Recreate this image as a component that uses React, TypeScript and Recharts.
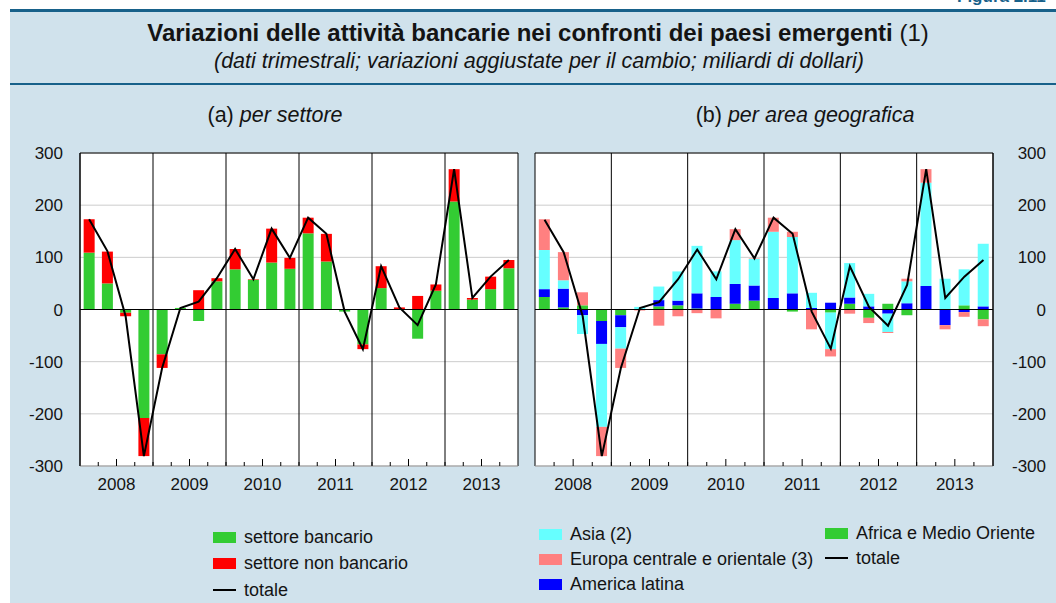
import React from 'react';
import { ComposedChart, Bar, Line, XAxis, YAxis, CartesianGrid, ReferenceLine } from 'recharts';

// trimestri 2008 T1 - 2013 T4
const years = ['2008', '2009', '2010', '2011', '2012', '2013'];
const quarters = years.flatMap(y => ['T1', 'T2', 'T3', 'T4'].map(t => `${y} ${t}`));

// (a) per settore
const bancario = [109, 50, -6, -208, -86, 3, -22, 54, 77, 57, 90, 78, 146, 92, -4, -67, 41, 0, -56, 36, 207, 19, 39, 79];
const nonBancario = [64, 61, -7, -73, -26, 0, 37, 6, 39, 1, 65, 21, 30, 53, 0, -9, 42, 4, 26, 12, 62, 3, 24, 16];
const totaleSettore = [173, 112, -13, -281, -112, 3, 15, 60, 116, 58, 155, 99, 176, 145, -4, -76, 83, 4, -30, 48, 269, 22, 63, 95];

// (b) per area geografica
const asia = [75, 16, -36, -159, -41, 4, 26, 56, 91, 49, 84, 51, 127, 108, 29, -70, 66, 24, -35, 42, 198, 59, 69, 120];
const europa = [59, 54, 25, -56, -37, -2, -31, -13, -7, -17, 21, 1, 27, 10, -37, -14, -8, -10, -2, 5, 26, -8, -9, -13];
const america = [15, 36, -11, -44, -23, 0, 12, 9, 29, 24, 38, 29, 22, 31, 3, 13, 12, 6, -8, 12, 45, -30, -5, 6];
const africa = [24, 4, 8, -22, -11, 1, 6, 8, 2, 0, 11, 17, 0, -4, -1, -6, 11, -16, 11, -11, 0, 0, 8, -19];
const totaleArea = [172, 110, -13, -281, -112, 3, 14, 58, 115, 58, 154, 98, 176, 145, -4, -75, 83, 5, -31, 47, 269, 22, 63, 95];

const yTicks = [-300, -200, -100, 0, 100, 200, 300];
const quarterTicks = Array.from({ length: 23 }, (_, i) => i + 1);
const yearLines = [0, 4, 8, 12, 16, 20, 24];

const C = {
  green: '#33cc33',
  red: '#ff0000',
  cyan: '#66ffff',
  pink: '#ff8080',
  blue: '#0000ff',
  bg: '#d0e2ec',
  teal: '#17618a',
  text: '#141414',
};

const settoreData = quarters.map((q, i) => ({
  q,
  pos: i + 0.5,
  bancario: bancario[i],
  nonBancario: nonBancario[i],
  totale: totaleSettore[i],
}));

const areaData = quarters.map((q, i) => ({
  q,
  pos: i + 0.5,
  africa: africa[i],
  america: america[i],
  asia: asia[i],
  europa: europa[i],
  totale: totaleArea[i],
}));

const settoreLegend = [
  { label: 'settore bancario', color: C.green, kind: 'rect' },
  { label: 'settore non bancario', color: C.red, kind: 'rect' },
  { label: 'totale', color: '#000', kind: 'line' },
];
const areaLegend1 = [
  { label: 'Asia (2)', color: C.cyan, kind: 'rect' },
  { label: 'Europa centrale e orientale (3)', color: C.pink, kind: 'rect' },
  { label: 'America latina', color: C.blue, kind: 'rect' },
];
const areaLegend2 = [
  { label: 'Africa e Medio Oriente', color: C.green, kind: 'rect' },
  { label: 'totale', color: '#000', kind: 'line' },
];

const QuarterTick = (props: any) => {
  const { x, y, payload } = props;
  const v = payload.value;
  const mid = v % 4 === 2;
  return (
    <g>
      <line x1={x} x2={x} y1={y} y2={y - (mid ? 7 : 4)} stroke="#000" strokeWidth={1} />
      {mid && (
        <text x={x} y={y + 12} dy="0.71em" textAnchor="middle" fontSize={17} fill={C.text}>
          {years[(v - 2) / 4]}
        </text>
      )}
    </g>
  );
};

const RightTick = (props: any) => {
  const { x, y, payload } = props;
  return (
    <text x={x} y={y} dy="0.355em" textAnchor="end" fontSize={17} fill={C.text}>
      {payload.value}
    </text>
  );
};

const Legend = ({ items, left, top, gap }: { items: any[]; left: number; top: number; gap: number }) => (
  <div style={{ position: 'absolute', left, top }}>
    {items.map((it, i) => (
      <div
        key={it.label}
        style={{ position: 'absolute', left: 0, top: i * gap, height: 20, display: 'flex', alignItems: 'center', whiteSpace: 'nowrap', fontSize: 18, color: C.text }}
      >
        {it.kind === 'rect' ? (
          <span style={{ display: 'inline-block', width: 23, height: 11, background: it.color }} />
        ) : (
          <span style={{ display: 'inline-block', width: 23, height: 1.5, background: it.color }} />
        )}
        <span style={{ marginLeft: 8 }}>{it.label}</span>
      </div>
    ))}
  </div>
);

const frameParts = (
  <>
    <CartesianGrid vertical={false} stroke="#cccccc" fill="#ffffff" fillOpacity={1} />
    <XAxis dataKey="q" hide height={0} />
    <XAxis
      xAxisId="n"
      type="number"
      dataKey="pos"
      domain={[0, 24]}
      ticks={quarterTicks}
      interval={0}
      height={30}
      tickLine={false}
      tickSize={0}
      tickMargin={0}
      axisLine={{ stroke: '#999999' }}
      tick={<QuarterTick />}
    />
  </>
);

export default function App() {
  return (
    <div
      style={{
        position: 'absolute', left: 0, top: 0, width: 1056, height: 603, overflow: 'hidden',
        background: '#fff', fontFamily: '"Liberation Sans", Arial, Helvetica, sans-serif', color: C.text,
      }}
    >
      <div style={{ position: 'absolute', left: 10, top: 10, width: 1046, height: 593, background: C.bg }} />
      <div style={{ position: 'absolute', left: 10, top: 9, width: 1046, height: 3, background: C.teal }} />
      <div style={{ position: 'absolute', left: 10, top: 83, width: 1046, height: 2, background: C.teal }} />
      <div style={{ position: 'absolute', left: 957, top: -13, fontSize: 17, fontWeight: 'bold', color: C.teal, whiteSpace: 'nowrap' }}>
        Figura 2.11
      </div>

      <div style={{ position: 'absolute', left: 0, width: 1076, top: 19, textAlign: 'center', fontSize: 24, whiteSpace: 'nowrap' }}>
        <b>Variazioni delle attività bancarie nei confronti dei paesi emergenti</b> (1)
      </div>
      <div style={{ position: 'absolute', left: 0, width: 1078, top: 49, textAlign: 'center', fontSize: 21.5, fontStyle: 'italic', whiteSpace: 'nowrap' }}>
        (dati trimestrali; variazioni aggiustate per il cambio; miliardi di dollari)
      </div>
      <div style={{ position: 'absolute', left: 125, width: 300, top: 103, textAlign: 'center', fontSize: 21.5, whiteSpace: 'nowrap' }}>
        (a) <i>per settore</i>
      </div>
      <div style={{ position: 'absolute', left: 655, width: 300, top: 103, textAlign: 'center', fontSize: 21.5, whiteSpace: 'nowrap' }}>
        (b) <i>per area geografica</i>
      </div>

      <div style={{ position: 'absolute', left: 0, top: 140 }}>
        <ComposedChart width={530} height={360} data={settoreData} stackOffset="sign" barCategoryGap="20%"
          margin={{ top: 13, right: 12, bottom: 4, left: 0 }}>
          {frameParts}
          <YAxis domain={[-300, 300]} ticks={yTicks} width={80} tickLine={false} tickSize={0} tickMargin={17}
            axisLine={{ stroke: '#000' }} tick={{ fontSize: 17, fill: C.text }} />
          <Bar dataKey="bancario" stackId="s" fill={C.green} isAnimationActive={false} />
          <Bar dataKey="nonBancario" stackId="s" fill={C.red} isAnimationActive={false} />
          <ReferenceLine y={0} stroke="#000" strokeWidth={1.2} />
          <ReferenceLine y={300} stroke="#000" />
          {yearLines.map(v => (
            <ReferenceLine key={v} xAxisId="n" x={v} stroke="#000" />
          ))}
          <Line dataKey="totale" type="linear" stroke="#000" strokeWidth={2} dot={false} isAnimationActive={false} />
        </ComposedChart>
      </div>

      <div style={{ position: 'absolute', left: 530, top: 140 }}>
        <ComposedChart width={526} height={360} data={areaData} stackOffset="sign" barCategoryGap="20%"
          margin={{ top: 13, right: 0, bottom: 4, left: 5 }}>
          {frameParts}
          <YAxis orientation="right" domain={[-300, 300]} ticks={yTicks} width={63} tickLine={false} tickSize={0}
            tickMargin={53} axisLine={{ stroke: '#000' }} tick={<RightTick />} />
          <Bar dataKey="africa" stackId="a" fill={C.green} isAnimationActive={false} />
          <Bar dataKey="america" stackId="a" fill={C.blue} isAnimationActive={false} />
          <Bar dataKey="asia" stackId="a" fill={C.cyan} isAnimationActive={false} />
          <Bar dataKey="europa" stackId="a" fill={C.pink} isAnimationActive={false} />
          <ReferenceLine y={0} stroke="#000" strokeWidth={1.2} />
          <ReferenceLine y={300} stroke="#000" />
          {yearLines.map(v => (
            <ReferenceLine key={v} xAxisId="n" x={v} stroke="#000" />
          ))}
          <Line dataKey="totale" type="linear" stroke="#000" strokeWidth={2} dot={false} isAnimationActive={false} />
        </ComposedChart>
      </div>

      <Legend items={settoreLegend} left={213} top={527} gap={26.5} />
      <Legend items={areaLegend1} left={539} top={524} gap={25} />
      <Legend items={areaLegend2} left={825} top={523} gap={25} />
    </div>
  );
}
